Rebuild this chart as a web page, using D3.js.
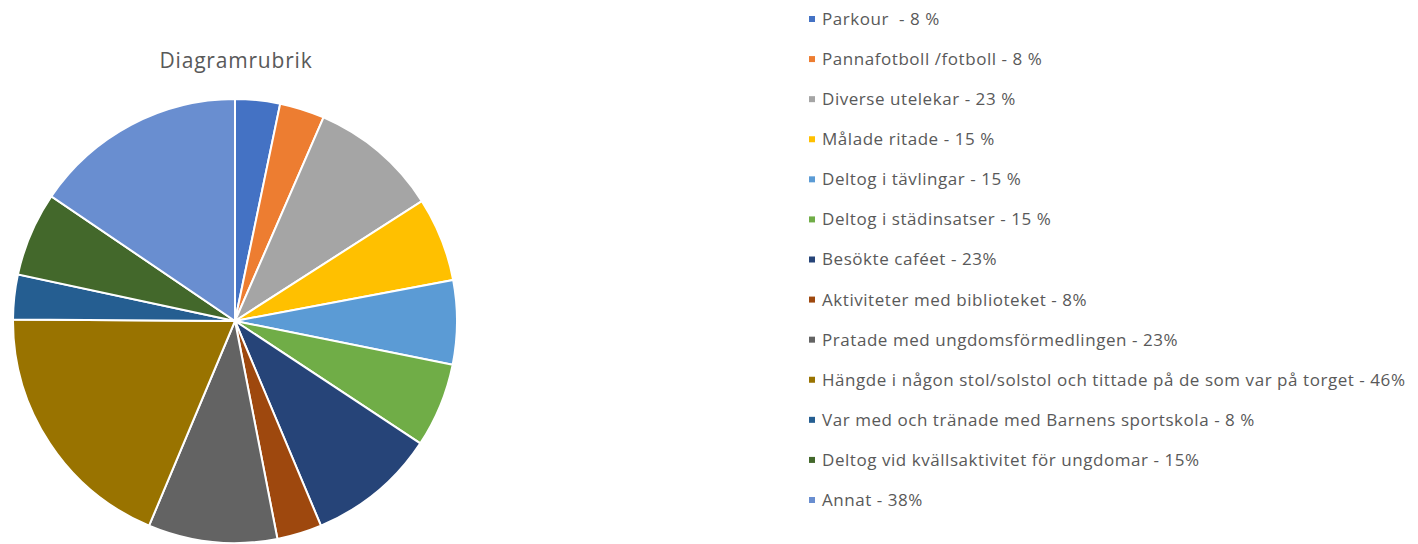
<!DOCTYPE html>
<html lang="sv">
<head>
    <meta charset="UTF-8">
    <title>Diagramrubrik</title>
    <script src="https://d3js.org/d3.v7.min.js"></script>
    <style>
        body { margin: 0; background: #fff; }
        text { font-family: "Open Sans", "Noto Sans", sans-serif; fill: #595959; white-space: pre; }
    </style>
</head>
<body>
    <svg id="chart" width="1418" height="544"></svg>

    <script>
        // Data
        const labels = [
            'Parkour  - 8 %',
            'Pannafotboll /fotboll - 8 %',
            'Diverse utelekar - 23 %',
            'Målade ritade - 15 %',
            'Deltog i tävlingar - 15 %',
            'Deltog i städinsatser - 15 %',
            'Besökte caféet - 23%',
            'Aktiviteter med biblioteket - 8%',
            'Pratade med ungdomsförmedlingen - 23%',
            'Hängde i någon stol/solstol och tittade på de som var på torget - 46%',
            'Var med och tränade med Barnens sportskola - 8 %',
            'Deltog vid kvällsaktivitet för ungdomar - 15%',
            'Annat - 38%'
        ];
        const values = [8, 8, 23, 15, 15, 15, 23, 8, 23, 46, 8, 15, 38];
        const colors = ['#4472C4', '#ED7D31', '#A5A5A5', '#FFC000', '#5B9BD5', '#70AD47',
                        '#264478', '#9E480E', '#636363', '#997300', '#255E91', '#43682B', '#698ED0'];
        const title = 'Diagramrubrik';

        const svg = d3.select('#chart');
        const cx = 235, cy = 321, radius = 222;

        const data = values.map((v, i) => ({ label: labels[i], value: v, color: colors[i] }));

        const pie = d3.pie().value(d => d.value).sort(null);
        const arc = d3.arc().innerRadius(0).outerRadius(radius);

        const g = svg.append('g').attr('transform', `translate(${cx},${cy})`);
        g.selectAll('path')
            .data(pie(data))
            .enter().append('path')
            .attr('d', arc)
            .attr('fill', d => d.data.color)
            .attr('stroke', '#fff')
            .attr('stroke-width', 2);

        // title
        svg.append('text')
            .attr('x', cx + 1)
            .attr('y', 68)
            .attr('text-anchor', 'middle')
            .style('font-size', '21px')
            .style('letter-spacing', '0.8px')
            .text(title);

        // legend
        const y = d3.scalePoint().domain(d3.range(data.length)).range([19, 500]);
        const legend = svg.append('g');
        const rows = legend.selectAll('g')
            .data(data)
            .enter().append('g')
            .attr('transform', (d, i) => `translate(809,${y(i)})`);
        rows.append('rect')
            .attr('x', 0).attr('y', -3)
            .attr('width', 6).attr('height', 6)
            .attr('fill', d => d.color);
        rows.append('text')
            .attr('x', 13)
            .attr('dy', '0.35em')
            .style('font-size', '17px')
            .style('letter-spacing', '0.55px')
            .text(d => d.label);
    </script>
</body>
</html>
